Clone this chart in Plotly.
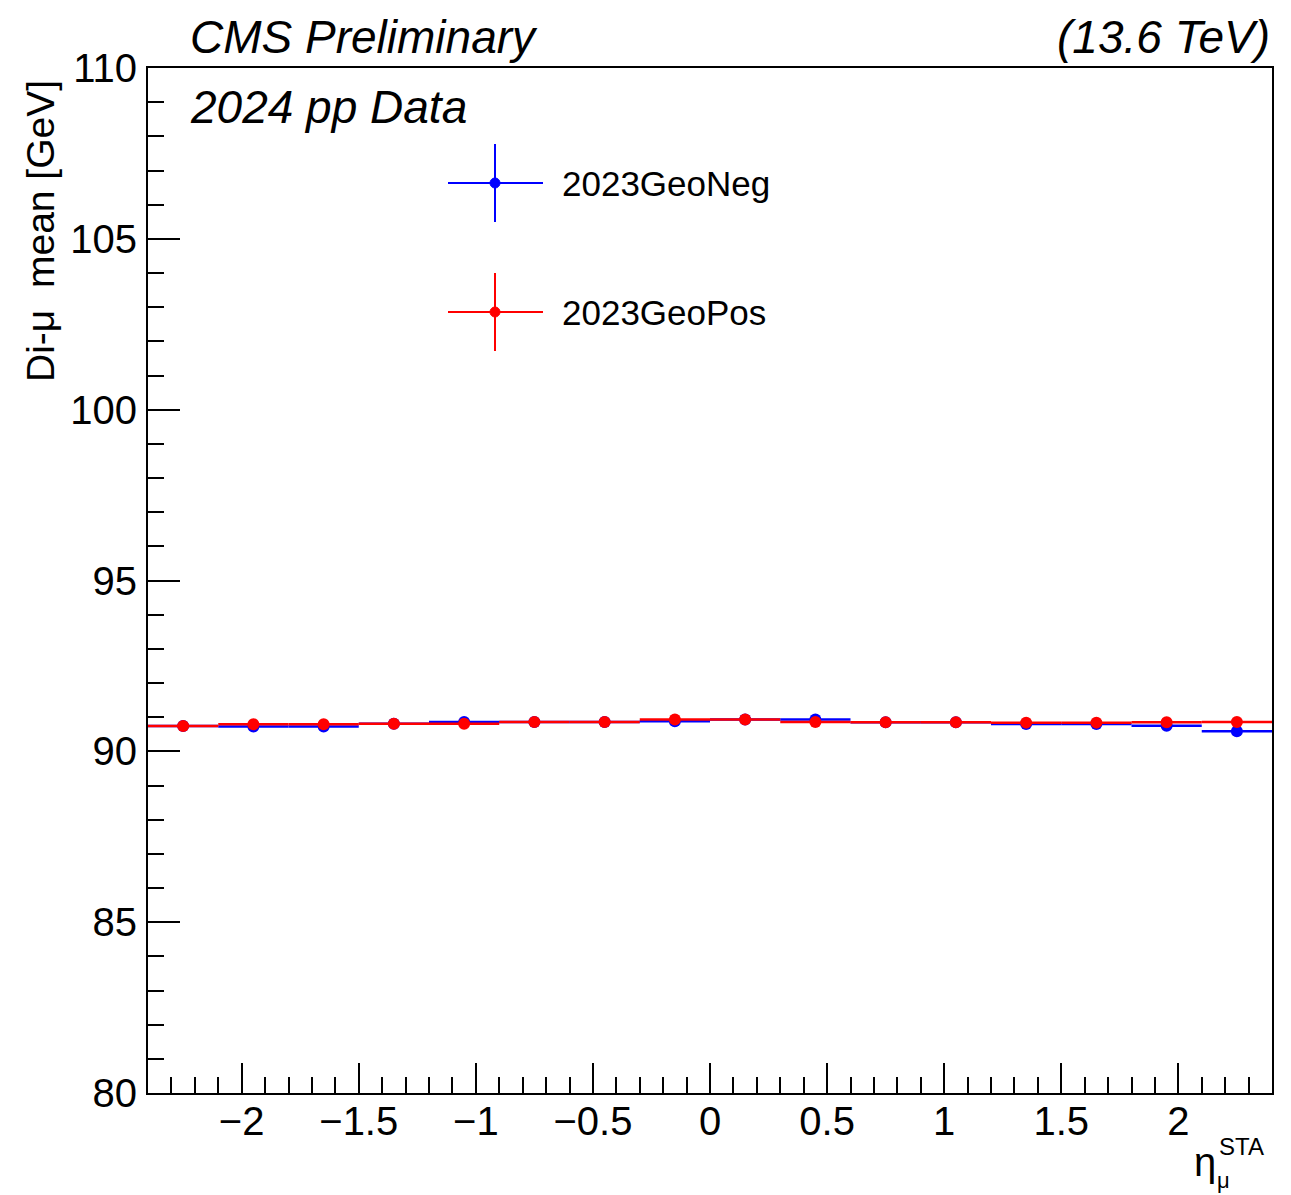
import plotly.graph_objects as go

# ---- data ----
eta_centers = [-2.25, -1.95, -1.65, -1.35, -1.05, -0.75, -0.45, -0.15,
               0.15, 0.45, 0.75, 1.05, 1.35, 1.65, 1.95, 2.25]
eta_halfwidth = [0.15] * 16
mean_neg = [90.74, 90.73, 90.73, 90.81, 90.86, 90.86, 90.86, 90.88,
            90.93, 90.93, 90.85, 90.85, 90.80, 90.80, 90.75, 90.59]
err_neg = [0.02] * 16
mean_pos = [90.74, 90.79, 90.79, 90.81, 90.81, 90.86, 90.86, 90.93,
            90.93, 90.86, 90.85, 90.85, 90.84, 90.84, 90.85, 90.86]
err_pos = [0.02] * 16
series = [("2023GeoNeg", mean_neg, err_neg, "#0000ff"),
          ("2023GeoPos", mean_pos, err_pos, "#ff0000")]

FONT = "Liberation Sans, Arial, Helvetica, sans-serif"
OFF = 8  # page body margin
W, H = 1291 - OFF, 1195 - OFF
L, R, T, B = 148 - OFF, 19, 68 - OFF, 102
PW, PH = W - L - R, H - T - B

fig = go.Figure()
for name, y, ey, col in series:
    fig.add_trace(go.Scatter(
        x=eta_centers, y=y, mode="markers", name=name,
        marker=dict(color=col, size=12, symbol="circle"),
        error_x=dict(type="data", array=eta_halfwidth, color=col, thickness=2.5, width=0),
        error_y=dict(type="data", array=ey, color=col, thickness=2.5, width=0),
        showlegend=False))

def px2paper(px, py):
    # page pixel coordinates -> paper coordinates
    return (px - OFF - L) / PW, (H - B - (py - OFF)) / PH

shapes = []
annotations = []
# custom ROOT-style legend
for i, (name, y, ey, col) in enumerate(series):
    cy = 183 + i * 129
    x0, yy = px2paper(448, cy)
    x1, _ = px2paper(543, cy)
    xc, _ = px2paper(495, cy)
    _, ytop = px2paper(495, cy - 39)
    _, ybot = px2paper(495, cy + 39)
    shapes.append(dict(type="line", xref="paper", yref="paper", x0=x0, x1=x1, y0=yy, y1=yy,
                       line=dict(color=col, width=2)))
    shapes.append(dict(type="line", xref="paper", yref="paper", x0=xc, x1=xc, y0=ybot, y1=ytop,
                       line=dict(color=col, width=2)))
    r0x, r0y = px2paper(490, cy + 5)
    r1x, r1y = px2paper(500, cy - 5)
    shapes.append(dict(type="circle", xref="paper", yref="paper", x0=r0x, x1=r1x, y0=r0y, y1=r1y,
                       fillcolor=col, line=dict(color=col, width=1)))
    tx, _ = px2paper(560, cy)
    annotations.append(dict(text=name, xref="paper", yref="paper", x=tx, y=yy,
                            xanchor="left", yanchor="middle", showarrow=False,
                            font=dict(family=FONT, size=35, color="black")))

# header texts
annotations += [
    dict(text="<i>CMS Preliminary</i>", xref="paper", yref="paper", x=px2paper(188, 0)[0],
         y=px2paper(0, 37)[1], xanchor="left", yanchor="middle", showarrow=False,
         font=dict(family=FONT, size=46, color="black")),
    dict(text="<i>(13.6 TeV)</i>", xref="paper", yref="paper", x=px2paper(1272, 0)[0],
         y=px2paper(0, 37)[1], xanchor="right", yanchor="middle", showarrow=False,
         font=dict(family=FONT, size=46, color="black")),
    dict(text="<i>2024 pp Data</i>", xref="paper", yref="paper", x=px2paper(188, 0)[0],
         y=px2paper(0, 107)[1], xanchor="left", yanchor="middle", showarrow=False,
         font=dict(family=FONT, size=46, color="black")),
    # y title
    dict(text="Di-μ  mean [GeV]", xref="paper", yref="paper", x=px2paper(40, 0)[0],
         y=px2paper(0, 78)[1], xanchor="center", yanchor="top", textangle=-90, showarrow=False,
         font=dict(family=FONT, size=39, color="black")),
    # x title
    dict(text="η", xref="paper", yref="paper", x=px2paper(1205, 0)[0], y=px2paper(0, 1162)[1],
         xanchor="center", yanchor="middle", showarrow=False,
         font=dict(family=FONT, size=40, color="black")),
    dict(text="STA", xref="paper", yref="paper", x=px2paper(1217, 0)[0], y=px2paper(0, 1146)[1],
         xanchor="left", yanchor="middle", showarrow=False,
         font=dict(family=FONT, size=24, color="black")),
    dict(text="μ", xref="paper", yref="paper", x=px2paper(1215, 0)[0], y=px2paper(0, 1180)[1],
         xanchor="left", yanchor="middle", showarrow=False,
         font=dict(family=FONT, size=22, color="black")),
]

fig.update_layout(
    width=W, height=H,
    margin=dict(l=L, r=R, t=T, b=B, autoexpand=False),
    paper_bgcolor="white", plot_bgcolor="white",
    showlegend=False,
    shapes=shapes, annotations=annotations,
    font=dict(family=FONT, color="black"),
    xaxis=dict(range=[-2.4, 2.4], tick0=0, dtick=0.5, ticks="inside", ticklen=30, tickwidth=1.5,
               tickcolor="black", showline=True, linecolor="black", linewidth=2, mirror=True,
               showgrid=False, zeroline=False, tickfont=dict(family=FONT, size=40),
               ticklabelstandoff=-8,
               minor=dict(dtick=0.1, tick0=0, ticks="inside", ticklen=16, tickwidth=1.5,
                          tickcolor="black", showgrid=False)),
    yaxis=dict(range=[80, 110], tick0=80, dtick=5, ticks="inside", ticklen=32, tickwidth=1.5,
               tickcolor="black", showline=True, linecolor="black", linewidth=2, mirror=True,
               showgrid=False, zeroline=False, tickfont=dict(family=FONT, size=40),
               ticklabelstandoff=1,
               minor=dict(dtick=1, tick0=80, ticks="inside", ticklen=16, tickwidth=1.5,
                          tickcolor="black", showgrid=False)),
)

fig.write_html("out.html")
